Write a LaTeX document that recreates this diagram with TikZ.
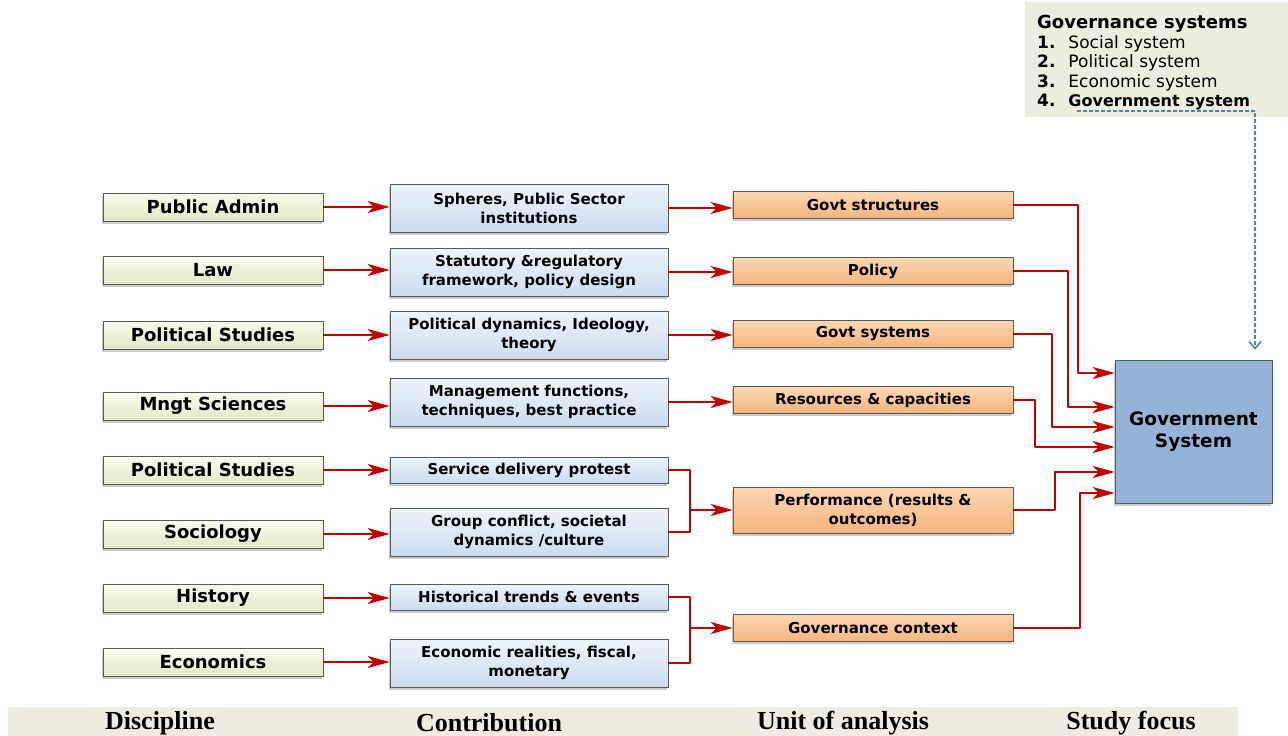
\documentclass[tikz,border=0pt]{standalone}
\usepackage{fontspec}
\setmainfont{DejaVu Sans}
\newfontfamily\barfont{Liberation Serif}
\usetikzlibrary{arrows.meta,shadows}

\definecolor{discA}{HTML}{F9FBEC}
\definecolor{discB}{HTML}{E4E8C4}
\definecolor{conA}{HTML}{EEF4FB}
\definecolor{conB}{HTML}{CCDCEF}
\definecolor{unitA}{HTML}{FCD8B4}
\definecolor{unitB}{HTML}{F5B47C}
\definecolor{focusfill}{HTML}{95B3D7}
\definecolor{panelfill}{HTML}{EBEEDF}
\definecolor{barfill}{HTML}{EEECE1}
\definecolor{linkred}{HTML}{C00000}
\definecolor{dashblue}{HTML}{4F81BD}

\tikzset{
  cellbox/.style={draw=gray!70!black, line width=0.6pt, align=center, inner sep=2pt,
    drop shadow={shadow xshift=-1.5pt, shadow yshift=-2.5pt, fill=gray!50, opacity=.8}},
  discbox/.style={cellbox, top color=discA, bottom color=discB,
    minimum width=220pt, minimum height=28pt, font=\bfseries\fontsize{18}{20}\selectfont},
  contribbox/.style={cellbox, top color=conA, bottom color=conB,
    minimum width=278pt, minimum height=48pt, font=\bfseries\fontsize{15}{19}\selectfont},
  unitbox/.style={cellbox, top color=unitA, bottom color=unitB,
    minimum width=280pt, minimum height=27pt, font=\bfseries\fontsize{15}{19}\selectfont},
  focusbox/.style={cellbox, fill=focusfill, minimum width=157pt, minimum height=143pt,
    font=\bfseries\fontsize{18.5}{22}\selectfont},
  link/.style={draw=linkred, line width=2.6pt, line join=round,
    -{Stealth[length=22pt,width=12pt,inset=6pt]}},
  plain link/.style={draw=linkred, line width=2.6pt, line join=round},
  dash link/.style={draw=dashblue, line width=1.6pt, dash pattern=on 4pt off 2pt,
    -{Straight Barb[length=7pt,width=12pt]}},
  caption/.style={font=\barfont\bfseries\fontsize{26}{28}\selectfont},
}

\begin{document}
\begin{tikzpicture}[x=1pt,y=-1pt]
  \useasboundingbox (0,0) rectangle (1288,736);

  % governance systems panel
  \node[fill=panelfill, minimum width=263pt, minimum height=115pt, anchor=north east,
        inner sep=0pt] (panel) at (1288,2) {};
  \node[anchor=north west, inner sep=0pt, font=\fontsize{17}{19.5}\selectfont] (gsys) at (1037,15)
    {\begin{tabular}{@{}l@{\hspace{13pt}}l@{}}
      \multicolumn{2}{@{}l}{\fontsize{18}{19.5}\selectfont\textbf{Governance systems}}\\
      \textbf{1.} & Social system\\
      \textbf{2.} & Political system\\
      \textbf{3.} & Economic system\\
      \textbf{4.} & \fontsize{16}{19.5}\selectfont\textbf{Government system}
    \end{tabular}};

  % discipline
  \node[discbox] (d1) at (213,207) {Public Admin};
  \node[discbox] (d2) at (213,270) {Law};
  \node[discbox] (d3) at (213,335) {Political Studies};
  \node[discbox] (d4) at (213,406) {Mngt Sciences};
  \node[discbox] (d5) at (213,470) {Political Studies};
  \node[discbox] (d6) at (213,534) {Sociology};
  \node[discbox] (d7) at (213,598) {History};
  \node[discbox] (d8) at (213,662) {Economics};

  % contribution
  \node[contribbox] (c1) at (529,208) {Spheres, Public Sector\\institutions};
  \node[contribbox] (c2) at (529,272) {Statutory \&regulatory\\framework, policy design};
  \node[contribbox] (c3) at (529,335) {Political dynamics, Ideology,\\theory};
  \node[contribbox] (c4) at (529,402) {Management functions,\\techniques, best practice};
  \node[contribbox, minimum height=26pt] (c5) at (529,470) {Service delivery protest};
  \node[contribbox] (c6) at (529,532) {Group conflict, societal\\dynamics /culture};
  \node[contribbox, minimum height=26pt] (c7) at (529,597) {Historical trends \& events};
  \node[contribbox] (c8) at (529,663) {Economic realities, fiscal,\\monetary};

  % unit of analysis
  \node[unitbox] (u1) at (873,205) {Govt structures};
  \node[unitbox] (u2) at (873,271) {Policy};
  \node[unitbox] (u3) at (873,334) {Govt systems};
  \node[unitbox] (u4) at (873,400) {Resources \& capacities};
  \node[unitbox, minimum height=46pt] (u5) at (873,510) {Performance (results \&\\outcomes)};
  \node[unitbox] (u6) at (873,628) {Governance context};

  % study focus
  \node[focusbox] (gs) at (1193.5,431.5) {Government\\System};

  \foreach \i in {1,...,8}
    \draw[link] (d\i.east) -- (d\i.east -| c\i.west);
  \foreach \i in {1,...,4}
    \draw[link] (c\i.east) -- (c\i.east -| u\i.west);

  \coordinate (j1) at (690,510);
  \coordinate (j2) at (690,628);
  \draw[plain link] (c5.east) -| (j1) |- (c6.east);
  \draw[link] (j1) -- (u5.west);
  \draw[plain link] (c7.east) -| (j2) |- (c8.east);
  \draw[link] (j2) -- (u6.west);

  \draw[link] (u1.east) -| (1078,373) -- (gs.west |- 0,373);
  \draw[link] (u2.east) -| (1068,407) -- (gs.west |- 0,407);
  \draw[link] (u3.east) -| (1052,427) -- (gs.west |- 0,427);
  \draw[link] (u4.east) -| (1035,447) -- (gs.west |- 0,447);
  \draw[link] (u5.east) -| (1055,472) -- (gs.west |- 0,472);
  \draw[link] (u6.east) -| (1080,493) -- (gs.west |- 0,493);

  \coordinate (dstart) at (1077,111);
  \draw[dash link, shorten >=10pt] (dstart) -| (gs.north -| 1255,0);

  % column captions
  \fill[barfill] (8,707) rectangle (1238,736);
  \node[caption] (l1) at (160,723) {Discipline};
  \node[caption] (l2) at (489,723) {Contribution};
  \node[caption] (l3) at (843,723) {Unit of analysis};
  \node[caption] (l4) at (1131,723) {Study focus};
\end{tikzpicture}
\end{document}
